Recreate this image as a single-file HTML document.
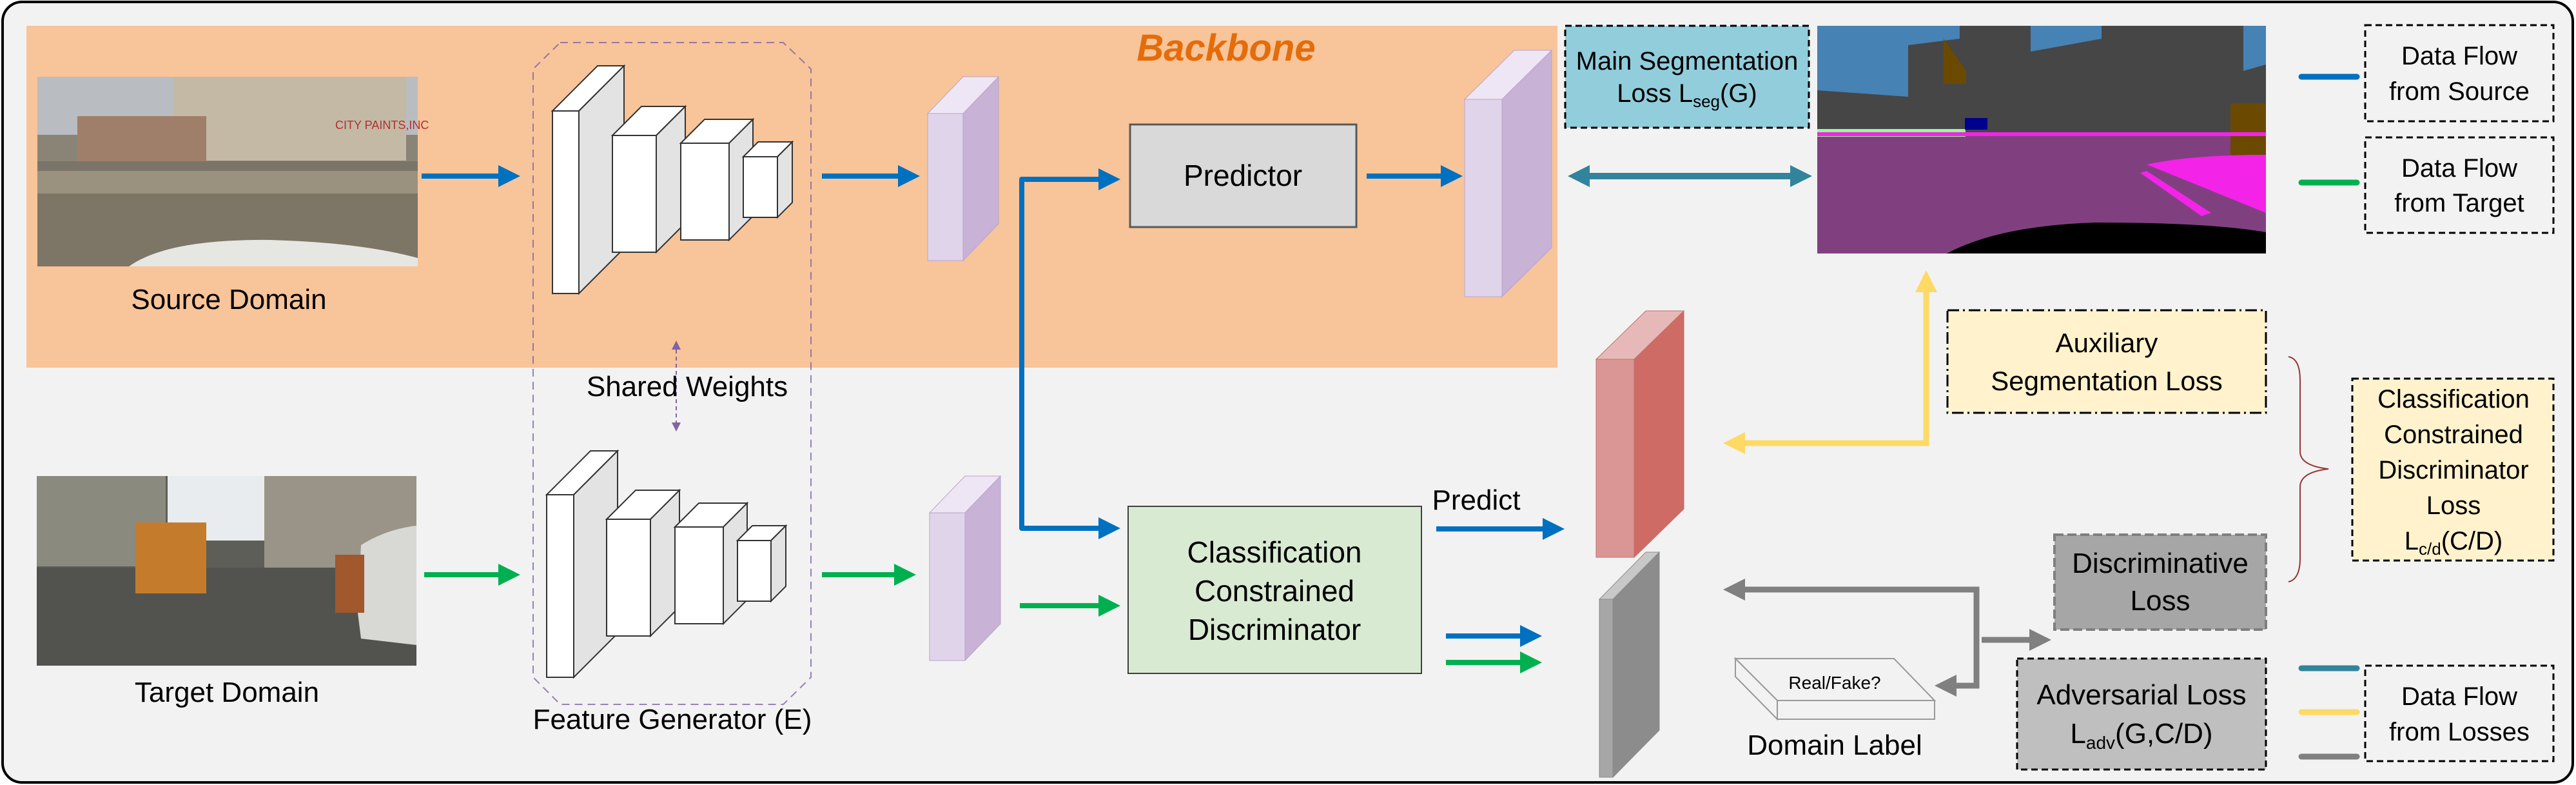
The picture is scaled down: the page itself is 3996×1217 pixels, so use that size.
<!DOCTYPE html>
<html><head><meta charset="utf-8">
<style>
html,body{margin:0;padding:0;background:#fff;}
svg{display:block;}
text{font-family:"Liberation Sans",sans-serif;fill:#000;}
</style></head>
<body>
<svg id="s" width="3996" height="1217" viewBox="0 0 3996 1217" xmlns="http://www.w3.org/2000/svg">
<defs>
<marker id="mb" markerUnits="userSpaceOnUse" markerWidth="34" markerHeight="36" viewBox="0 0 10 10" refX="0" refY="5" orient="auto-start-reverse"><path d="M0,0 L10,5 L0,10 z" fill="#0070C0"/></marker>
<marker id="mg" markerUnits="userSpaceOnUse" markerWidth="34" markerHeight="36" viewBox="0 0 10 10" refX="0" refY="5" orient="auto-start-reverse"><path d="M0,0 L10,5 L0,10 z" fill="#00B050"/></marker>
<marker id="mt" markerUnits="userSpaceOnUse" markerWidth="34" markerHeight="40" viewBox="0 0 10 10" refX="0" refY="5" orient="auto-start-reverse"><path d="M0,0 L10,5 L0,10 z" fill="#31849B"/></marker>
<marker id="my" markerUnits="userSpaceOnUse" markerWidth="34" markerHeight="40" viewBox="0 0 10 10" refX="0" refY="5" orient="auto-start-reverse"><path d="M0,0 L10,5 L0,10 z" fill="#FFD966"/></marker>
<marker id="mr" markerUnits="userSpaceOnUse" markerWidth="34" markerHeight="40" viewBox="0 0 10 10" refX="0" refY="5" orient="auto-start-reverse"><path d="M0,0 L10,5 L0,10 z" fill="#808080"/></marker>
<marker id="mp" markerUnits="userSpaceOnUse" markerWidth="14" markerHeight="14" viewBox="0 0 10 10" refX="0" refY="5" orient="auto-start-reverse"><path d="M0,0 L10,5 L0,10 z" fill="#8064A2"/></marker>
</defs>

<rect x="4" y="3" width="3987" height="1210" rx="30" fill="#F2F2F2" stroke="#000" stroke-width="4"/>
<rect x="41" y="40" width="2375" height="530" fill="#F8C499"/>
<text x="1902" y="94" font-size="58" font-weight="bold" font-style="italic" text-anchor="middle" style="fill:#E46C0A">Backbone</text>

<g>
<rect x="58" y="119" width="590" height="294" fill="#8a8477"/>
<rect x="58" y="119" width="590" height="90" fill="#b9bcc0"/>
<rect x="270" y="119" width="360" height="130" fill="#c3b9a5"/>
<rect x="120" y="180" width="200" height="70" fill="#a07f6a"/>
<rect x="58" y="250" width="590" height="15" fill="#7a7568"/>
<rect x="58" y="265" width="590" height="148" fill="#9a927f"/>
<path d="M58,300 L648,300 L648,413 L58,413z" fill="#7d7566"/>
<path d="M200,413 Q260,370 420,372 Q560,376 648,400 L648,413z" fill="#e6e6e2"/>
<text x="520" y="200" font-size="18" style="fill:#b03030">CITY PAINTS,INC</text>
</g>
<text x="355" y="479" font-size="44" text-anchor="middle">Source Domain</text>

<g>
<rect x="57" y="738" width="589" height="294" fill="#5d5e58"/>
<rect x="260" y="738" width="150" height="100" fill="#e8ecee"/>
<rect x="57" y="738" width="200" height="140" fill="#8a8a7e"/>
<rect x="410" y="738" width="236" height="150" fill="#9a9488"/>
<rect x="57" y="880" width="589" height="152" fill="#52534f"/>
<rect x="210" y="810" width="110" height="110" fill="#c47c2c"/>
<path d="M555,950 L560,845 Q600,820 646,815 L646,1000 L560,990z" fill="#d8d8d4"/>
<rect x="520" y="860" width="45" height="90" fill="#a0582c"/>
</g>
<text x="352" y="1088" font-size="44" text-anchor="middle">Target Domain</text>

<path d="M869,66 L1215,66 L1258,107 L1258,1050 L1215,1092 L869,1092 L827,1050 L827,107 Z" fill="none" stroke="#8064A2" stroke-width="2" stroke-dasharray="12,8" opacity="0.8"/>
<text x="1043" y="1130" font-size="44" text-anchor="middle">Feature Generator (E)</text>
<g id="boxes"></g>

<line x1="1049" y1="542" x2="1049" y2="655" stroke="#8064A2" stroke-width="2" stroke-dasharray="6,5" marker-start="url(#mp)" marker-end="url(#mp)"/>
<text x="1066" y="614" font-size="44" text-anchor="middle">Shared Weights</text>

<g id="slabs"></g>

<rect x="1753" y="193" width="351" height="159" fill="#D9D9D9" stroke="#595959" stroke-width="3"/>
<text x="1928" y="288" font-size="46" text-anchor="middle">Predictor</text>

<rect x="1750" y="785" width="455" height="259" fill="#D9EAD3" stroke="#404040" stroke-width="2"/>
<text x="1977" y="872" font-size="46" text-anchor="middle">Classification</text>
<text x="1977" y="932" font-size="46" text-anchor="middle">Constrained</text>
<text x="1977" y="992" font-size="46" text-anchor="middle">Discriminator</text>

<g stroke="#0070C0" stroke-width="8" fill="none" stroke-linejoin="round">
<line x1="654" y1="273" x2="773" y2="273" marker-end="url(#mb)"/>
<line x1="1275" y1="273" x2="1393" y2="273" marker-end="url(#mb)"/>
<path d="M1704,278 L1585,278 L1585,819 L1704,819" marker-end="url(#mb)" marker-start="url(#mb)"/>
<line x1="2120" y1="273" x2="2235" y2="273" marker-end="url(#mb)"/>
<line x1="2228" y1="820" x2="2393" y2="820" marker-end="url(#mb)"/>
<line x1="2243" y1="986" x2="2358" y2="986" marker-end="url(#mb)"/>
</g>
<text x="2290" y="790" font-size="44" text-anchor="middle">Predict</text>
<g stroke="#00B050" stroke-width="8" fill="none">
<line x1="658" y1="891" x2="773" y2="891" marker-end="url(#mg)"/>
<line x1="1275" y1="891" x2="1387" y2="891" marker-end="url(#mg)"/>
<line x1="1582" y1="939" x2="1704" y2="939" marker-end="url(#mg)"/>
<line x1="2243" y1="1027" x2="2358" y2="1027" marker-end="url(#mg)"/>
</g>

<rect x="2428" y="40" width="378" height="158" fill="#92CDDC" stroke="#000" stroke-width="3" stroke-dasharray="10,6"/>
<text x="2617" y="108" font-size="40" text-anchor="middle">Main Segmentation</text>
<text x="2617" y="158" font-size="40" text-anchor="middle">Loss L<tspan font-size="26" dy="8">seg</tspan><tspan dy="-8">(G)</tspan></text>
<line x1="2466" y1="273" x2="2777" y2="273" stroke="#31849B" stroke-width="10" marker-start="url(#mt)" marker-end="url(#mt)"/>

<g>
<rect x="2819" y="40" width="696" height="353" fill="#804080"/>
<rect x="2819" y="40" width="696" height="160" fill="#4682B4"/>
<path d="M2819,140 L2960,150 L2960,70 L3040,60 L3040,40 L3150,40 L3150,80 L3260,60 L3260,40 L3480,40 L3480,110 L3515,100 L3515,205 L2819,205Z" fill="#464646"/>
<path d="M3015,60 L3050,110 L3050,130 L3015,130Z" fill="#6B4A00"/>
<rect x="3460" y="160" width="55" height="90" fill="#6B4A00"/>
<rect x="2819" y="200" width="230" height="12" fill="#98FB98"/>
<rect x="2819" y="205" width="696" height="6" fill="#F423E8"/>
<path d="M3330,255 Q3400,240 3515,240 L3515,330 Z" fill="#F423E8"/>
<path d="M3330,265 L3430,330 L3415,335 L3320,268Z" fill="#F423E8"/>
<path d="M3020,393 Q3100,350 3250,345 Q3430,345 3515,360 L3515,393Z" fill="#000"/>
<rect x="3048" y="183" width="35" height="18" fill="#00008E"/>
</g>

<rect x="3669" y="39" width="292" height="149" fill="none" stroke="#000" stroke-width="3" stroke-dasharray="10,6"/>
<text x="3815" y="100" font-size="40" text-anchor="middle">Data Flow</text>
<text x="3815" y="155" font-size="40" text-anchor="middle">from Source</text>
<line x1="3570" y1="119" x2="3656" y2="119" stroke="#0070C0" stroke-width="9" stroke-linecap="round"/>
<rect x="3669" y="213" width="292" height="148" fill="none" stroke="#000" stroke-width="3" stroke-dasharray="10,6"/>
<text x="3815" y="274" font-size="40" text-anchor="middle">Data Flow</text>
<text x="3815" y="328" font-size="40" text-anchor="middle">from Target</text>
<line x1="3570" y1="283" x2="3656" y2="283" stroke="#00B050" stroke-width="9" stroke-linecap="round"/>
<rect x="3669" y="1032" width="292" height="148" fill="none" stroke="#000" stroke-width="3" stroke-dasharray="10,6"/>
<text x="3815" y="1093" font-size="40" text-anchor="middle">Data Flow</text>
<text x="3815" y="1148" font-size="40" text-anchor="middle">from Losses</text>
<line x1="3570" y1="1036" x2="3656" y2="1036" stroke="#31849B" stroke-width="9" stroke-linecap="round"/>
<line x1="3570" y1="1104" x2="3656" y2="1104" stroke="#FFD966" stroke-width="9" stroke-linecap="round"/>
<line x1="3570" y1="1173" x2="3656" y2="1173" stroke="#808080" stroke-width="9" stroke-linecap="round"/>

<rect x="3021" y="481" width="494" height="159" fill="#FFF2CC" stroke="#000" stroke-width="3" stroke-dasharray="18,6,3,6"/>
<text x="3268" y="546" font-size="42" text-anchor="middle">Auxiliary</text>
<text x="3268" y="605" font-size="42" text-anchor="middle">Segmentation Loss</text>
<path d="M2707,687 L2988,687 L2988,453" fill="none" stroke="#FFD966" stroke-width="9" marker-start="url(#my)" marker-end="url(#my)"/>

<path d="M3550,553 Q3568,556 3568,590 L3568,700 Q3568,722 3612,727 Q3568,732 3568,755 L3568,865 Q3568,898 3550,902" fill="none" stroke="#943634" stroke-width="2"/>

<rect x="3649" y="587" width="312" height="282" fill="#FFF2CC" stroke="#000" stroke-width="3" stroke-dasharray="10,6"/>
<text x="3806" y="632" font-size="40" text-anchor="middle">Classification</text>
<text x="3806" y="687" font-size="40" text-anchor="middle">Constrained</text>
<text x="3806" y="742" font-size="40" text-anchor="middle">Discriminator</text>
<text x="3806" y="797" font-size="40" text-anchor="middle">Loss</text>
<text x="3806" y="852" font-size="40" text-anchor="middle">L<tspan font-size="26" dy="8">c/d</tspan><tspan dy="-8">(C/D)</tspan></text>

<rect x="3187" y="829" width="328" height="147" fill="#A6A6A6" stroke="#7F7F7F" stroke-width="4" stroke-dasharray="14,6"/>
<text x="3351" y="888" font-size="44" text-anchor="middle">Discriminative</text>
<text x="3351" y="946" font-size="44" text-anchor="middle">Loss</text>
<rect x="3129" y="1021" width="386" height="172" fill="#BFBFBF" stroke="#000" stroke-width="3" stroke-dasharray="10,6"/>
<text x="3322" y="1092" font-size="44" text-anchor="middle">Adversarial Loss</text>
<text x="3322" y="1152" font-size="44" text-anchor="middle">L<tspan font-size="28" dy="9">adv</tspan><tspan dy="-9">(G,C/D)</tspan></text>

<path d="M2707,914 L3066,914 L3066,1063 L3035,1063" fill="none" stroke="#808080" stroke-width="9" marker-start="url(#mr)" marker-end="url(#mr)"/>
<line x1="3074" y1="992" x2="3148" y2="992" stroke="#808080" stroke-width="9" marker-end="url(#mr)"/>

<path d="M2692,1021 L2938,1021 L3001,1086 L2757,1086 Z" fill="#F2F2F2" stroke="#999" stroke-width="2"/>
<path d="M2692,1021 L2757,1086 L2757,1115 L2692,1049 Z" fill="#F2F2F2" stroke="#999" stroke-width="2"/>
<rect x="2757" y="1086" width="244" height="29" fill="#F2F2F2" stroke="#999" stroke-width="2"/>
<text x="2846" y="1068" font-size="28" text-anchor="middle">Real/Fake?</text>
<text x="2846" y="1170" font-size="44" text-anchor="middle">Domain Label</text>

<script>
(function(){
var ns="http://www.w3.org/2000/svg";
function poly(g,pts,fill,stroke,sw){var p=document.createElementNS(ns,"polygon");p.setAttribute("points",pts.map(function(a){return a.join(",")}).join(" "));p.setAttribute("fill",fill);p.setAttribute("stroke",stroke);p.setAttribute("stroke-width",sw);g.appendChild(p);}
function box(g,x,y,w,h,dx,dy,cf,ct,cs,st,sw){
 poly(g,[[x,y],[x+dx,y-dy],[x+w+dx,y-dy],[x+w,y]],ct,st,sw);
 poly(g,[[x+w,y],[x+w+dx,y-dy],[x+w+dx,y+h-dy],[x+w,y+h]],cs,st,sw);
 poly(g,[[x,y],[x+w,y],[x+w,y+h],[x,y+h]],cf,st,sw);
}
var b=document.getElementById("boxes");
var specs=[[857,172,41,283,70],[950,210,68,181,45],[1056,222,75,150,37],[1153,243,53,94,23]];
specs.forEach(function(s){box(b,s[0],s[1],s[2],s[3],s[4],s[4],"#fff","#fff","#E3E3E3","#333",2);});
var sb=[[848,767,42,283,68],[941,805,68,181,45],[1047,817,75,150,37],[1144,838,52,94,23]];
sb.forEach(function(s){box(b,s[0],s[1],s[2],s[3],s[4],s[4],"#fff","#fff","#E3E3E3","#333",2);});
var sl=document.getElementById("slabs");
box(sl,1439,176,55,228,55,57,"#E0D4EA","#EEE6F4","#C8B3D6","#B9A3CC",1);
box(sl,1442,795,55,229,55,57,"#E0D4EA","#EEE6F4","#C8B3D6","#B9A3CC",1);
box(sl,2272,154,58,306,77,76,"#E0D4EA","#EEE6F4","#C8B3D6","#B9A3CC",1);
box(sl,2476,557,59,307,77,75,"#DA9694","#E6B9B8","#CD6B64","#C0706A",1);
box(sl,2481,929,21,276,72,73,"#A6A6A6","#C8C8C8","#8C8C8C","#8C8C8C",1);
})();
</script>
</svg>
</body></html>
